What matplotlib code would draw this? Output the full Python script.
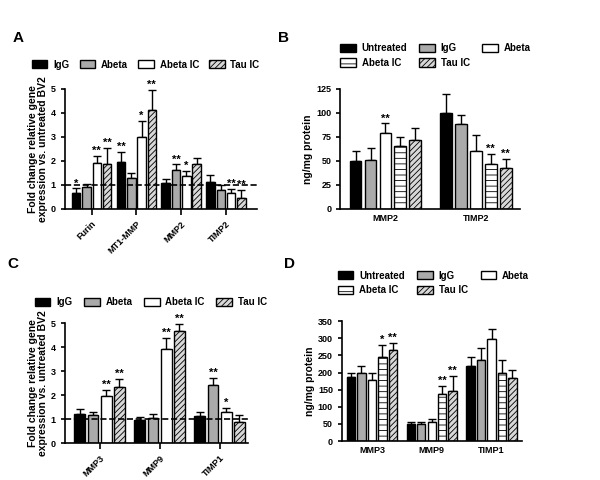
import numpy as np
import matplotlib.pyplot as plt

plt.rcParams['font.family'] = ['Liberation Sans', 'DejaVu Sans']
plt.rcParams['font.weight'] = 'bold'
plt.rcParams['hatch.linewidth'] = 0.6

# panel A: qPCR fold change
genes_a = ['Furin', 'MT1-MMP', 'MMP2', 'TIMP2']
series_a = ['IgG', 'Abeta', 'Abeta IC', 'Tau IC']
vals_a = [[0.65, 1.97, 1.07, 1.12],
          [0.92, 1.30, 1.60, 0.80],
          [1.92, 3.00, 1.38, 0.67],
          [1.88, 4.10, 1.88, 0.47]]
err_a = [[0.20, 0.40, 0.17, 0.27],
         [0.12, 0.20, 0.25, 0.20],
         [0.30, 0.65, 0.20, 0.15],
         [0.65, 0.85, 0.25, 0.30]]
stars_a = [['*', '**', '', ''],
           ['', '', '**', ''],
           ['**', '*', '*', '**'],
           ['**', '**', '', '**']]

# panel B: protein
genes_b = ['MMP2', 'TIMP2']
series_b = ['Untreated', 'IgG', 'Abeta', 'Abeta IC', 'Tau IC']
vals_b = [[50, 100], [51, 88], [79, 60], [65, 47], [72, 42]]
err_b = [[10, 20], [12, 10], [10, 17], [10, 10], [12, 10]]
stars_b = [['', ''], ['', ''], ['**', ''], ['', '**'], ['', '**']]

# panel C: qPCR fold change
genes_c = ['MMP3', 'MMP9', 'TIMP1']
series_c = ['IgG', 'Abeta', 'Abeta IC', 'Tau IC']
vals_c = [[1.22, 0.97, 1.13],
          [1.18, 1.05, 2.43],
          [1.95, 3.92, 1.30],
          [2.32, 4.65, 0.88]]
err_c = [[0.20, 0.12, 0.18],
         [0.13, 0.15, 0.28],
         [0.25, 0.45, 0.15],
         [0.35, 0.30, 0.30]]
stars_c = [['', '', ''], ['', '', '**'], ['**', '**', '*'], ['**', '**', '']]

# panel D: protein
genes_d = ['MMP3', 'MMP9', 'TIMP1']
series_d = ['Untreated', 'IgG', 'Abeta', 'Abeta IC', 'Tau IC']
vals_d = [[188, 50, 220], [200, 50, 237], [178, 55, 298], [246, 137, 200], [265, 145, 185]]
err_d = [[10, 5, 25], [20, 5, 35], [20, 10, 30], [35, 23, 37], [22, 45, 22]]
stars_d = [['', '', ''], ['', '', ''], ['', '', ''], ['*', '**', ''], ['**', '**', '']]

styles = {
    'Untreated': dict(color='black', hatch=None),
    'IgG': dict(color='black', hatch=None),
    'Abeta': dict(color='#aaaaaa', hatch=None),
    'Abeta IC': dict(color='white', hatch=None),
    'Tau IC': dict(color='#d8d8d8', hatch='//////'),
}
styles_protein = dict(styles)
styles_protein['IgG'] = dict(color='#aaaaaa', hatch=None)
styles_protein['Abeta'] = dict(color='white', hatch=None)
styles_protein['Abeta IC'] = dict(color='white', hatch='---')


def panel(ax, genes, series, vals, errs, stars, sty, pitch, width, ylim, yticks,
          ylabel, rotate, dashed, xlim):
    x = np.arange(len(genes))
    n = len(series)
    handles = []
    for i, s in enumerate(series):
        pos = x + (i - (n - 1) / 2) * pitch
        st = sty[s]
        b = ax.bar(pos, vals[i], width, color=st['color'], hatch=st['hatch'],
                   edgecolor='black', linewidth=1.0, label=s, zorder=2)
        handles.append(b)
        ax.errorbar(pos, vals[i], yerr=[np.zeros(len(genes)), errs[i]], fmt='none',
                    ecolor='black', elinewidth=1.0, capsize=3, capthick=1.0, zorder=1)
        for p, v, e, t in zip(pos, vals[i], errs[i], stars[i]):
            if t:
                ax.text(p, v + e, t, ha='center', va='bottom', fontsize=8,
                        fontweight='bold', linespacing=0.8)
    if dashed:
        ax.axhline(1, color='black', ls='--', lw=1.2, zorder=3)
    ax.set_ylim(*ylim)
    ax.set_yticks(yticks)
    ax.set_xlim(*xlim)
    ax.set_xticks(x)
    if rotate:
        ax.set_xticklabels(genes, rotation=45, ha='right', rotation_mode='anchor')
    else:
        ax.set_xticklabels(genes)
    for sp in ['top', 'right']:
        ax.spines[sp].set_visible(False)
    for sp in ['left', 'bottom']:
        ax.spines[sp].set_linewidth(1.2)
    ax.tick_params(axis='both', labelsize=6.5, width=1.2, length=3, direction='out')
    ax.tick_params(axis='x', length=4 if rotate else 0)
    ax.set_ylabel(ylabel, fontsize=7.5, fontweight='bold', labelpad=2, linespacing=1.0)
    return handles


def legend(handles, labels, anchor, ncol, colsp):
    # matplotlib fills legends column by column; reorder so rows read left to right
    if ncol == 3 and len(handles) == 5:
        order = [0, 3, 1, 4, 2]
        handles = [handles[k] for k in order]
        labels = [labels[k] for k in order]
    fig.legend(handles, labels, loc='center left', bbox_to_anchor=anchor, ncol=ncol,
               frameon=False, fontsize=7, handlelength=1.6, handleheight=0.9,
               columnspacing=colsp, handletextpad=0.6, labelspacing=0.45, borderaxespad=0,
               borderpad=0)


fig = plt.figure(figsize=(6, 4.8), dpi=100)
ax_a = fig.add_axes([0.108, 0.565, 0.32, 0.25])
ax_b = fig.add_axes([0.567, 0.565, 0.30, 0.25])
ax_c = fig.add_axes([0.108, 0.077, 0.305, 0.25])
ax_d = fig.add_axes([0.570, 0.081, 0.30, 0.25])

fold_label = 'Fold change relative gene\nexpression vs. untreated BV2'

h = panel(ax_a, genes_a, series_a, vals_a, err_a, stars_a, styles, 0.23, 0.19,
          (0, 5), [0, 1, 2, 3, 4, 5], fold_label, True, True, (-0.6, 3.69))
legend(h, series_a, (0.053, 0.865), 4, 1.05)
h = panel(ax_b, genes_b, series_b, vals_b, err_b, stars_b, styles_protein, 0.165, 0.13,
          (0, 125), [0, 25, 50, 75, 100, 125], 'ng/mg protein', False, False, (-0.5, 1.49))
legend(h, series_b, (0.567, 0.884), 3, 1.25)
h = panel(ax_c, genes_c, series_c, vals_c, err_c, stars_c, styles, 0.22, 0.18,
          (0, 5), [0, 1, 2, 3, 4, 5], fold_label, True, True, (-0.58, 2.47))
legend(h, series_c, (0.058, 0.371), 4, 1.2)
h = panel(ax_d, genes_d, series_d, vals_d, err_d, stars_d, styles_protein, 0.175, 0.14,
          (0, 350), [0, 50, 100, 150, 200, 250, 300, 350], 'ng/mg protein', False, False,
          (-0.5, 2.51))
legend(h, series_d, (0.563, 0.411), 3, 1.3)

for lab, xx, yy in [('A', 0.03, 0.92), ('B', 0.472, 0.92), ('C', 0.022, 0.45), ('D', 0.483, 0.45)]:
    fig.text(xx, yy, lab, fontsize=11, fontweight='bold', ha='center', va='center')

fig.savefig('out.png', dpi=100)
